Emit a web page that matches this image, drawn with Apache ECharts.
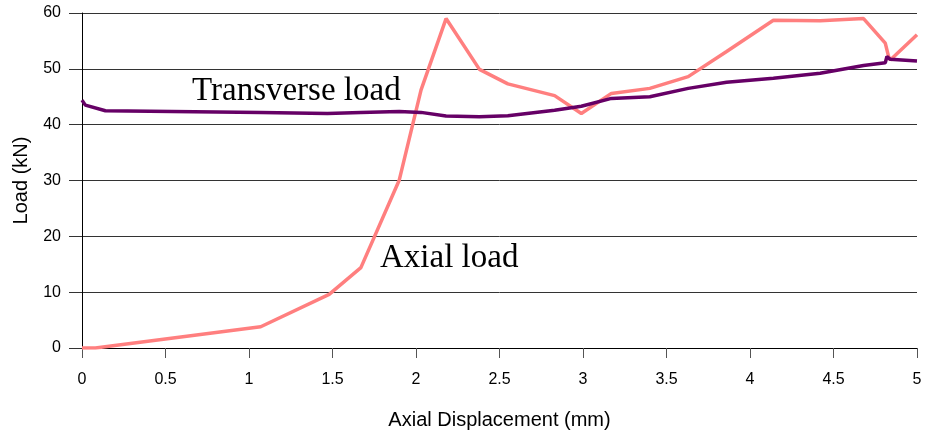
<!DOCTYPE html>
<html>
<head>
<meta charset="utf-8">
<script src="https://cdn.jsdelivr.net/npm/echarts@6/dist/echarts.min.js"></script>
<style>html,body{margin:0;padding:0;background:#fff}#c{width:925px;height:437px}</style>
</head>
<body>
<div id="c"></div>
<script>
// Axial load (x: displacement mm, y: load kN)
const axialX = [0, 0.08, 1.07, 1.48, 1.67, 1.90, 2.03, 2.18, 2.38, 2.55, 2.83, 2.99, 3.17, 3.40, 3.63, 3.86, 4.14, 4.42, 4.68, 4.81, 4.83, 4.84, 5.0];
const axialY = [0, 0, 3.8, 9.6, 14.4, 30.1, 46.2, 59.0, 49.9, 47.3, 45.2, 42.0, 45.6, 46.5, 48.6, 53.1, 58.7, 58.6, 59.0, 54.6, 52.2, 51.6, 56.1];
// Transverse load
const transX = [0, 0.02, 0.14, 1.07, 1.47, 1.67, 1.90, 2.03, 2.18, 2.38, 2.55, 2.83, 2.99, 3.17, 3.40, 3.63, 3.86, 4.14, 4.42, 4.68, 4.81, 4.82, 4.84, 5.0];
const transY = [44.4, 43.5, 42.5, 42.2, 42.0, 42.2, 42.35, 42.2, 41.55, 41.4, 41.6, 42.6, 43.3, 44.7, 45.0, 46.5, 47.6, 48.3, 49.2, 50.6, 51.1, 52.2, 51.7, 51.4];
const xTicks = [0, 0.5, 1, 1.5, 2, 2.5, 3, 3.5, 4, 4.5, 5];
const yTicks = [0, 10, 20, 30, 40, 50, 60];
const labels = [{text: 'Transverse load', x: 192, y: 102}, {text: 'Axial load', x: 380, y: 269}];

const zip = (xs, ys) => xs.map((x, i) => [x, ys[i]]);
const chart = echarts.init(document.getElementById('c'));
const sans = 'Liberation Sans, Arial, sans-serif';
chart.setOption({
  animation: false,
  grid: {left: 82, right: 8, top: 13, bottom: 89},
  xAxis: {
    type: 'value', min: xTicks[0], max: xTicks[xTicks.length - 1], interval: 0.5,
    name: 'Axial Displacement (mm)', nameLocation: 'middle', nameGap: 62,
    nameTextStyle: {fontFamily: sans, fontSize: 20, color: '#000'},
    axisLine: {show: true, lineStyle: {color: '#000', width: 1}},
    axisTick: {show: true, length: 10, lineStyle: {color: '#555'}},
    axisLabel: {fontFamily: sans, fontSize: 16, color: '#000', margin: 24},
    splitLine: {show: false}
  },
  yAxis: {
    type: 'value', min: yTicks[0], max: yTicks[yTicks.length - 1], interval: 10,
    name: 'Load (kN)', nameLocation: 'middle', nameGap: 51,
    nameTextStyle: {fontFamily: sans, fontSize: 20, color: '#000'},
    axisLine: {show: true, lineStyle: {color: '#000', width: 1}},
    axisTick: {show: true, length: 13, lineStyle: {color: '#333'}},
    axisLabel: {fontFamily: sans, fontSize: 16, color: '#000', margin: 21, padding: [3, 0, 0, 0]},
    splitLine: {show: true, lineStyle: {color: '#333', width: 1}}
  },
  series: [
    {type: 'line', data: zip(axialX, axialY), showSymbol: false, z: 2,
     lineStyle: {color: '#ff7f7f', width: 3.5}},
    {type: 'line', data: zip(transX, transY), showSymbol: false, z: 3,
     lineStyle: {color: '#660066', width: 3.5}}
  ],
  graphic: labels.map(l => ({
    type: 'text', left: l.x, top: l.y - 27,
    style: {text: l.text, fontFamily: 'Liberation Serif, serif', fontSize: 33, fill: '#000'}
  }))
});
</script>
</body>
</html>
